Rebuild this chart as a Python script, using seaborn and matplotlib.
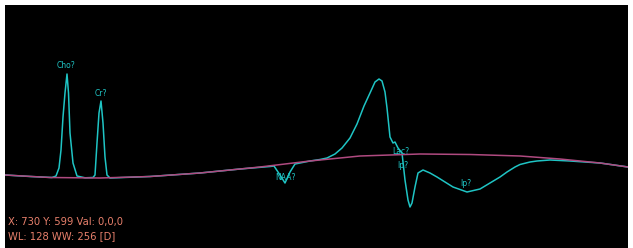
import matplotlib
matplotlib.use("Agg")
import matplotlib.pyplot as plt
import seaborn as sns

# spectrum trace (x = column, y = row, rows grow downward)
spec_x = [5, 30, 52, 56, 59, 61, 63, 65, 67, 68.5, 70, 73, 77, 85, 93, 95, 97, 99,
          101, 103, 105, 107, 110, 150, 200, 240, 270, 274, 280, 285, 290, 295,
          310, 320, 327, 335, 342, 350, 357, 364, 370, 375, 379, 382, 385, 387,
          390, 393, 395, 398, 402, 405, 408, 410, 412, 415, 418, 423, 430, 437,
          445, 453, 467, 480, 490, 500, 507, 515, 520, 530, 537, 550, 570, 600, 628]
spec_y = [175, 176.5, 177.5, 176, 168, 150, 117, 93, 74, 93, 133, 163, 176, 177.8,
          177.5, 175, 143, 113, 101, 123, 157, 175, 178, 176.5, 173, 169, 166.5,
          166, 175, 183, 172, 164, 161, 159.5, 158, 154, 148, 138, 124, 106, 93,
          82, 79, 81, 92, 108, 137, 143, 142, 148, 153, 180, 200, 207, 203, 187,
          173, 170, 173, 177, 182, 187, 192, 189, 183, 177, 172, 167, 164.5, 162,
          161, 160, 161, 163, 167]

# fitted baseline
base_x = [5, 50, 100, 150, 200, 260, 310, 360, 420, 470, 520, 560, 600, 628]
base_y = [175, 177.5, 178, 176.5, 173, 167, 161, 156, 154, 154.5, 156, 159, 163, 167]

# peak labels
peak_names = ["Cho?", "Cr?", "NAA?", "Lac?", "lp?", "lp?"]
peak_x = [66, 101, 286, 401, 403, 466]
peak_y = [66, 93, 177, 152, 165, 184]

info_lines = ["X: 730 Y: 599 Val: 0,0,0", "WL: 128 WW: 256 [D]"]

CYAN = "#1fc4c4"
MAGENTA = "#b04a80"
SALMON = "#e8806c"


def main():
    sns.set_style("dark")
    fig = plt.figure(figsize=(6.33, 2.48), dpi=100, facecolor="white")
    ax = fig.add_axes([5 / 633, 0, 623 / 633, 243 / 248])
    ax.set_facecolor("black")

    sns.lineplot(x=spec_x, y=spec_y, sort=False, estimator=None,
                 color=CYAN, linewidth=1.1, ax=ax)
    sns.lineplot(x=base_x, y=base_y, sort=False, estimator=None,
                 color=MAGENTA, linewidth=1.1, ax=ax)

    for name, x, y in zip(peak_names, peak_x, peak_y):
        ax.text(x, y, name, color=CYAN, fontsize=5.5, ha="center", va="center")

    for i, line in enumerate(info_lines):
        ax.text(8, 222 + i * 14, line, color=SALMON, fontsize=7.2,
                ha="left", va="center")

    ax.set_xlim(5, 628)
    ax.set_ylim(248, 5)
    ax.set_xticks([])
    ax.set_yticks([])
    ax.grid(False)
    for s in ax.spines.values():
        s.set_visible(False)

    fig.savefig("out.png", dpi=100, facecolor="white")


if __name__ == "__main__":
    main()
